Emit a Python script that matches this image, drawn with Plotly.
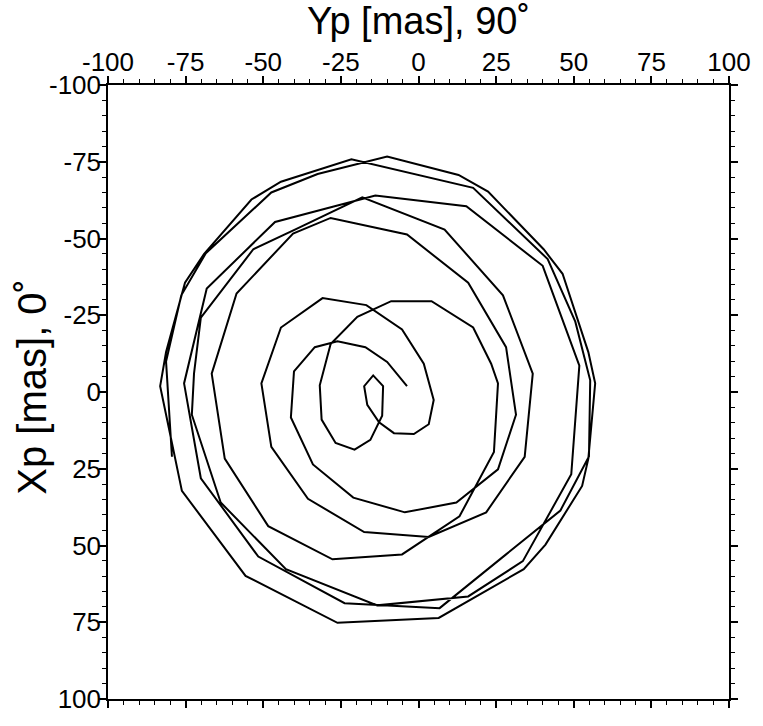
import plotly.graph_objects as go

# Yp [mas] (horizontal) and Xp [mas] (vertical, positive down)
yp = [-79.4, -81.3, -76.4, -68.5, -47.4, -32.5, -10.1, 12.9, 22.4, 40.3, 46.4, 54.7, 56.9, 54.7, 52.7, 40.9, 33.9, 6.5, -26.1,
      -55.7, -76.2, -83.2, -81.3, -75.2, -69.1, -53.8, -44.3, -21.6, 17.6, 41.6, 50.5, 55.3, 54.9, 45.7, 28.2, 6.8, -23.8,
      -51.6, -70.1, -75.5, -68.2, -46.2, -13.9, 15.4, 40.0, 51.8, 49.2, 33.6, 16.0, -13.3, -42.7, -63.7, -73.0,
      -72.3, -70.1, -53.2, -39.8, -18.1, 8.4, 27.2, 36.8, 34.2, 21.8, 3.3, -17.5, -35.6, -47.4, -50.6, -44.3, -30.9,
      -16.8, -5.3, 1.7, 4.9, 3.3, -1.5, -7.9, -12.7, -16.5, -17.5, -14.6, -11.4, -11.7, -15.5, -20.6, -26.7, -31.2,
      -31.8, -28.3, -19.7, -8.8, 4.2, 17.6, 23.4, 25.6, 24.3, 13.2, -5.3, -27.7, -48.4, -62.4, -66.6, -58.6, -40.4,
      -28.3, -3.7, 16.0, 28.2, 31.4, 25.6, 12.2, -4.4, -21.0, -34.0, -41.1, -40.1, -33.4, -26.1, -17.1, -10.1, -3.7]
xp = [21.1, -9.9, -31.5, -45.2, -65.0, -71.0, -76.7, -70.7, -65.3, -46.5, -38.5, -13.0, -2.8, 21.7, 30.6, 49.7, 57.7, 73.6, 75.2,
      59.9, 32.2, -1.9, -13.0, -35.6, -44.9, -62.7, -68.5, -75.8, -66.5, -43.3, -22.9, -3.8, 21.0, 38.6, 52.9, 70.4, 68.8,
      53.6, 28.1, -2.8, -33.7, -55.4, -64.0, -60.5, -41.1, -8.6, 26.8, 55.1, 66.6, 69.5, 57.7, 36.0, 7.4,
      -6.0, -24.2, -46.5, -52.9, -63.4, -52.9, -31.5, -6.0, 21.1, 39.2, 47.2, 45.6, 34.8, 17.9, -2.8, -21.0, -30.6,
      -28.3, -20.4, -9.2, 2.6, 10.5, 13.7, 13.4, 9.9, 4.2, -1.9, -5.4, -1.9, 7.7, 15.6, 18.8, 16.6, 9.0,
      -2.2, -15.6, -24.5, -29.6, -29.6, -21.0, -9.2, -2.8, 19.5, 40.5, 52.9, 54.5, 43.7, 21.7, -6.0, -32.1, -51.6,
      -56.7, -51.3, -35.6, -14.6, 7.4, 25.2, 36.0, 39.2, 34.4, 23.6, 8.3, -6.7, -14.6, -16.5, -14.6, -9.8, -1.9]

tick_vals = [-100, -75, -50, -25, 0, 25, 50, 75, 100]
x_title = "Yp [mas], 90˚"
y_title = "Xp [mas], 0˚"

fig = go.Figure()
fig.add_trace(go.Scatter(x=yp, y=xp, mode="lines",
                         line=dict(color="black", width=2), showlegend=False))

font_family = "Liberation Sans, Arial, sans-serif"
axis_common = dict(
    showgrid=False, zeroline=False, showline=True, linecolor="black", linewidth=1.5,
    ticks="outside", ticklen=7, tickwidth=1.5, tickcolor="black", mirror="ticks",
    tickvals=tick_vals, ticktext=[str(v) for v in tick_vals],
    tickfont=dict(family=font_family, size=26, color="black"),
    minor=dict(dtick=5, ticks="outside", ticklen=4, tickwidth=1.2, tickcolor="black"),
)

fig.update_xaxes(**axis_common)
fig.update_xaxes(range=[-100, 100], side="top", ticklabelstandoff=-5,
                 title=dict(text=x_title, font=dict(family=font_family, size=38, color="black"), standoff=2))
fig.update_yaxes(**axis_common)
fig.update_yaxes(range=[100, -100], ticklabelstandoff=-7)

fig.add_annotation(text=y_title, textangle=-90, xref="paper", yref="paper",
                   x=-0.123, y=0.508, xanchor="center", yanchor="middle", showarrow=False,
                   font=dict(family=font_family, size=40, color="black"))

fig.update_layout(width=763, height=726, margin=dict(l=108, r=28, t=85, b=13),
                  plot_bgcolor="white", paper_bgcolor="white")
fig.write_html("out.html")
